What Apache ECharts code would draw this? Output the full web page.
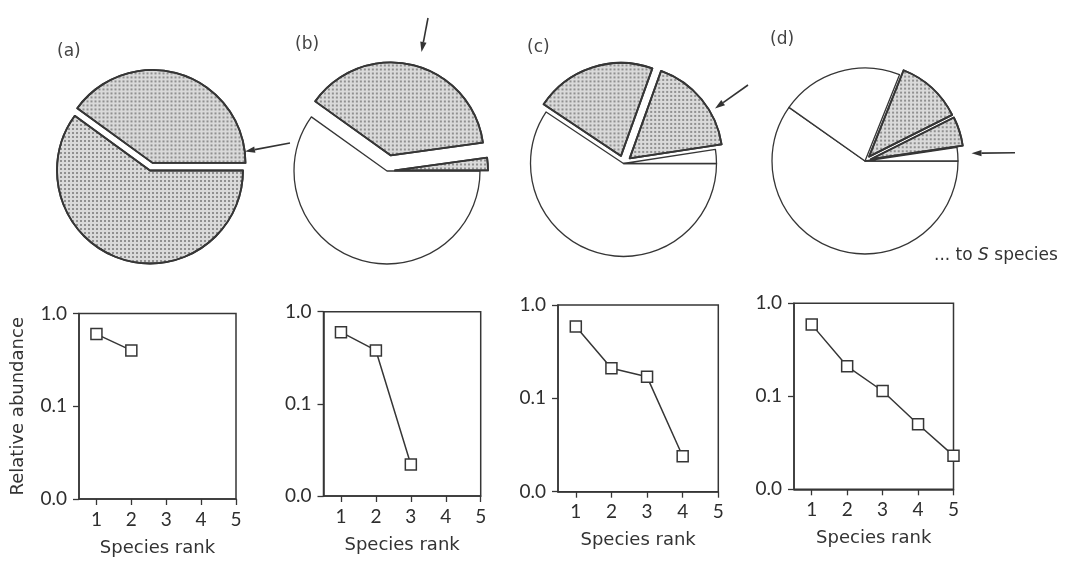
<!DOCTYPE html>
<html>
<head>
<meta charset="utf-8">
<script src="https://cdn.jsdelivr.net/npm/echarts@6/dist/echarts.min.js"></script>
<style>
  html, body { margin: 0; padding: 0; background: #ffffff; }
  #chart { width: 1069px; height: 567px; }
</style>
</head>
<body>
<div id="chart"></div>
<script>
// Relative abundance of each species, in rank order, at four stages of niche pre-emption
const panelLabels = ['(a)', '(b)', '(c)', '(d)'];
const abundanceA = [0.6, 0.4];
const abundanceB = [0.6, 0.38, 0.022];
const abundanceC = [0.59, 0.21, 0.17, 0.024];
const abundanceD = [0.59, 0.21, 0.114, 0.05, 0.023];

// Axis ticks and their printed labels
const rankTicks = [1, 2, 3, 4, 5];
const abundanceTicks = [0.01, 0.1, 1];
const abundanceTickLabels = ['0.0', '0.1', '1.0'];
const xAxisName = 'Species rank';
const yAxisName = 'Relative abundance';
const tailNote = '... to {s|S} species';

// Slice appearance: stippled or plain fill, and how far each slice is pulled out
const fillsA = ['dot', 'dot'];
const pullsA = [0, 8];
const fillsB = ['plain', 'dot', 'dot'];
const pullsB = [0, 16, 8];
const fillsC = ['plain', 'dot', 'dot', 'plain'];
const pullsC = [0, 8, 8, 0];
const fillsD = ['plain', 'plain', 'dot', 'dot', 'plain'];
const pullsD = [0, 0, 6, 6, 0];

const INK = '#363636';
const TICK_FONT = 'Lato';
const NAME_FONT = 'DejaVu Sans';
const PIE_RADIUS = 93;

const panels = [
  { values: abundanceA, fills: fillsA, pulls: pullsA, pieCenter: [150, 170.5],
    grid: { left: 79, top: 313.5, width: 157, height: 185.5 }, labelPos: [57, 43] },
  { values: abundanceB, fills: fillsB, pulls: pullsB, pieCenter: [387, 171],
    grid: { left: 323.5, top: 311.7, width: 157.2, height: 184.3 }, labelPos: [295, 36] },
  { values: abundanceC, fills: fillsC, pulls: pullsC, pieCenter: [623.5, 163.5],
    grid: { left: 558, top: 305, width: 160.3, height: 186.7 }, labelPos: [527, 39] },
  { values: abundanceD, fills: fillsD, pulls: pullsD, pieCenter: [865, 161],
    grid: { left: 794, top: 303.3, width: 159.5, height: 186 }, labelPos: [770, 31] }
];

const stipple = {
  symbol: 'circle',
  symbolSize: 1,
  color: 'rgba(40,40,40,0.55)',
  dashArrayX: [1.5, 1.5],
  dashArrayY: [1.5, 1.5],
  rotation: 0
};

function sliceStyle(fill) {
  if (fill === 'dot') {
    return { color: '#dadada', borderColor: INK, borderWidth: 1.8, decal: stipple };
  }
  return { color: '#ffffff', borderColor: INK, borderWidth: 1.3 };
}
const hiddenStyle = { color: 'rgba(0,0,0,0)', borderWidth: 0, borderColor: 'rgba(0,0,0,0)' };

function tickLabel(v) {
  const i = abundanceTicks.findIndex(t => Math.abs(Math.log10(t) - Math.log10(v)) < 1e-6);
  return i >= 0 ? abundanceTickLabels[i] : '';
}

function arrow(from, to) {
  const ang = Math.atan2(to[1] - from[1], to[0] - from[0]);
  const len = 10, half = 3.2;
  const bx = to[0] - Math.cos(ang) * len, by = to[1] - Math.sin(ang) * len;
  const px = -Math.sin(ang) * half, py = Math.cos(ang) * half;
  return {
    type: 'group', silent: true,
    children: [
      { type: 'line', shape: { x1: from[0], y1: from[1], x2: bx, y2: by },
        style: { stroke: '#333', lineWidth: 1.6 } },
      { type: 'polygon', shape: { points: [to, [bx + px, by + py], [bx - px, by - py]] },
        style: { fill: '#333' } }
    ]
  };
}

const tickText = { fontFamily: TICK_FONT, color: '#2e2e2e', fontSize: 19 };
const nameText = { fontFamily: NAME_FONT, color: '#333', fontSize: 18 };

const grids = [], xAxes = [], yAxes = [], series = [], titles = [];

panels.forEach((p, i) => {
  // one pie layer per pull distance, so each slice can be pulled out by its own amount
  const distinctPulls = Array.from(new Set(p.pulls));
  distinctPulls.forEach(pull => {
    series.push({
      type: 'pie',
      center: p.pieCenter,
      radius: PIE_RADIUS,
      startAngle: 0,
      clockwise: true,
      selectedMode: 'multiple',
      selectedOffset: pull,
      animation: false,
      label: { show: false },
      labelLine: { show: false },
      emphasis: { disabled: true },
      data: p.values.map((v, k) => {
        const mine = p.pulls[k] === pull;
        const st = mine ? sliceStyle(p.fills[k]) : hiddenStyle;
        return {
          name: 'Species ' + (k + 1),
          value: v,
          selected: mine && pull > 0,
          itemStyle: st,
          select: { itemStyle: st }
        };
      })
    });
  });

  grids.push(Object.assign({ show: true, borderColor: INK, borderWidth: 1.5, backgroundColor: 'transparent' }, p.grid));

  xAxes.push({
    gridIndex: i,
    type: 'value',
    min: 0.5,
    max: 5,
    axisLine: { show: true, onZero: false, lineStyle: { color: INK, width: 1.5 } },
    axisTick: { show: true, customValues: rankTicks, length: 6, lineStyle: { color: INK, width: 1.3 } },
    axisLabel: Object.assign({ customValues: rankTicks, margin: 11 }, tickText),
    splitLine: { show: false },
    name: xAxisName,
    nameLocation: 'middle',
    nameGap: 40,
    nameTextStyle: Object.assign({}, nameText)
  });

  yAxes.push({
    gridIndex: i,
    type: 'log',
    logBase: 10,
    min: 0.01,
    max: 1,
    axisLine: { show: true, lineStyle: { color: INK, width: 1.5 } },
    axisTick: { show: true, length: 6, lineStyle: { color: INK, width: 1.3 } },
    axisLabel: Object.assign({ formatter: tickLabel, margin: 12 }, tickText),
    splitLine: { show: false },
    name: i === 0 ? yAxisName : '',
    nameLocation: 'middle',
    nameGap: 52,
    nameTextStyle: Object.assign({}, nameText)
  });

  series.push({
    type: 'line',
    xAxisIndex: i,
    yAxisIndex: i,
    data: p.values.map((v, k) => [k + 1, v]),
    symbol: 'rect',
    symbolSize: 11,
    clip: false,
    animation: false,
    lineStyle: { color: INK, width: 1.5 },
    itemStyle: { color: '#ffffff', borderColor: INK, borderWidth: 1.5 },
    emphasis: { disabled: true }
  });

  titles.push({
    text: panelLabels[i],
    left: p.labelPos[0],
    top: p.labelPos[1],
    padding: 0,
    textStyle: { fontFamily: NAME_FONT, fontSize: 17, fontWeight: 'normal', color: '#444' }
  });
});

titles.push({
  text: tailNote,
  left: 934,
  top: 247,
  padding: 0,
  textStyle: {
    fontFamily: NAME_FONT, fontSize: 17, fontWeight: 'normal', color: '#333',
    rich: { s: { fontFamily: NAME_FONT, fontSize: 17, fontStyle: 'italic', color: '#333' } }
  }
});

const chart = echarts.init(document.getElementById('chart'), null, { renderer: 'canvas' });
chart.setOption({
  backgroundColor: '#ffffff',
  animation: false,
  title: titles,
  grid: grids,
  xAxis: xAxes,
  yAxis: yAxes,
  series: series,
  graphic: [
    arrow([290, 143], [245, 151.5]),
    arrow([428, 18], [421.5, 52]),
    arrow([748, 85], [715, 108.5]),
    arrow([1015, 152.7], [971.5, 153.3])
  ]
});
</script>
</body>
</html>
